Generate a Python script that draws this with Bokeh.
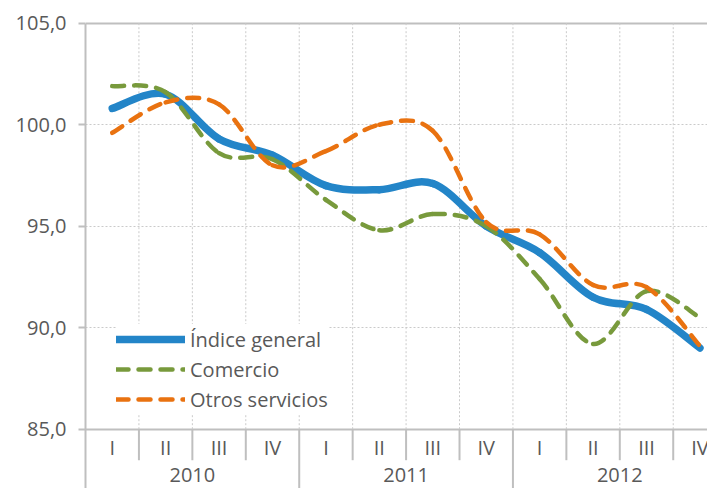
from bokeh.plotting import figure
from bokeh.models import Range1d, FixedTicker, Grid, Legend, LegendItem
from bokeh.core.properties import value
from bokeh.embed import file_html
from bokeh.resources import INLINE

# ---------------- data ----------------
years = ["2010", "2011", "2012"]
quarters = ["I", "II", "III", "IV"]
indice_general = [100.8, 101.5, 99.3, 98.5, 97.0, 96.8, 97.1, 95.0, 93.7, 91.5, 90.9, 89.0]
comercio = [101.9, 101.6, 98.6, 98.3, 96.3, 94.8, 95.6, 95.0, 92.4, 89.2, 91.8, 90.5]
otros_servicios = [99.6, 101.1, 101.0, 98.0, 98.7, 100.0, 99.7, 95.2, 94.6, 92.1, 92.0, 89.1]
y_ticks = [85, 90, 95, 100, 105]
y_tick_labels = ["85,0", "90,0", "95,0", "100,0", "105,0"]
series_names = ["Índice general", "Comercio", "Otros servicios"]

# ---------------- layout / style ----------------
W, H = 707, 488
BORDER_LEFT, BORDER_TOP = 85, 21
PX_PER_X = 53.43
PX_PER_Y = 20.3
TEXT = "#595959"
AXIS = "#BFBFBF"
GRIDC = "#CACACA"
FONT = "Open Sans"
FS = "20px"

frame_w = W - BORDER_LEFT
frame_h = H - BORDER_TOP
x_end = frame_w / PX_PER_X
y_end = y_ticks[-1] + 1.7 / PX_PER_Y
y_start = y_end - frame_h / PX_PER_Y

n = len(indice_general)
centers = [i + 0.5 for i in range(n)]
q_labels = [quarters[i % 4] for i in range(n)]
year_centers = [4 * j + 2 for j in range(len(years))]
base = y_ticks[0]

p = figure(width=W, height=H, x_range=Range1d(0, x_end), y_range=Range1d(y_start, y_end),
           output_backend="svg", toolbar_location=None, x_axis_location=None,
           min_border_left=BORDER_LEFT, min_border_right=0, min_border_top=BORDER_TOP,
           min_border_bottom=0, outline_line_color=None, background_fill_color="white",
           border_fill_color="white")

# y axis
ax = p.yaxis[0]
ax.ticker = FixedTicker(ticks=y_ticks)
ax.major_label_overrides = {t: l for t, l in zip(y_ticks, y_tick_labels)}
ax.bounds = (y_start, y_ticks[-1])
ax.axis_line_color = AXIS
ax.axis_line_width = 2
ax.major_tick_line_color = AXIS
ax.major_tick_line_width = 2
ax.major_tick_out = 7
ax.major_tick_in = 0
ax.minor_tick_line_color = None
ax.major_label_standoff = 12
ax.major_label_text_font = FONT
ax.major_label_text_font_size = FS
ax.major_label_text_color = TEXT

# grids
p.xgrid.visible = False
p.ygrid.ticker = FixedTicker(ticks=y_ticks[1:-1])
p.ygrid.grid_line_color = GRIDC
p.ygrid.grid_line_dash = "2 2"
p.ygrid.grid_line_width = 1
solid = Grid(dimension=1, ticker=FixedTicker(ticks=[y_ticks[0], y_ticks[-1]]),
             grid_line_color=AXIS, grid_line_width=2)
p.add_layout(solid)

bounds = list(range(1, n))
p.segment(x0=bounds, y0=[y_ticks[0]] * len(bounds), x1=bounds, y1=[y_ticks[-1]] * len(bounds),
          line_color=GRIDC, line_width=1, line_dash="2 2")

# category separators
q_sep = [k for k in range(1, n) if k % 4 != 0]
y_sep = [k for k in range(1, n) if k % 4 == 0]
p.segment(x0=q_sep, y0=[base] * len(q_sep), x1=q_sep, y1=[base - 31 / PX_PER_Y] * len(q_sep),
          line_color=AXIS, line_width=2)
p.segment(x0=y_sep, y0=[base] * len(y_sep), x1=y_sep, y1=[y_start] * len(y_sep),
          line_color=AXIS, line_width=2)

# category labels
p.text(x=centers, y=[base] * n, text=q_labels, y_offset=18.5, text_align="center",
       text_baseline="middle", text_font=value(FONT), text_font_size=FS, text_color=TEXT)
p.text(x=year_centers, y=[base] * len(years), text=years, y_offset=46, text_align="center",
       text_baseline="middle", text_font=value(FONT), text_font_size=FS, text_color=TEXT)


def smooth(vals):
    m = len(vals)
    xs = [i + 0.5 for i in range(m)]
    out = {k: [] for k in ["x0", "y0", "x1", "y1", "cx0", "cy0", "cx1", "cy1"]}
    for i in range(m - 1):
        a = max(i - 1, 0)
        b = min(i + 2, m - 1)
        out["x0"].append(xs[i]); out["y0"].append(vals[i])
        out["x1"].append(xs[i + 1]); out["y1"].append(vals[i + 1])
        out["cx0"].append(xs[i] + (xs[i + 1] - xs[a]) / 6)
        out["cy0"].append(vals[i] + (vals[i + 1] - vals[a]) / 6)
        out["cx1"].append(xs[i + 1] - (xs[b] - xs[i]) / 6)
        out["cy1"].append(vals[i + 1] - (vals[b] - vals[i]) / 6)
    return out


styles = [
    (indice_general, "#2385C8", 7.5, "solid"),
    (comercio, "#789A3C", 4.5, "12 10"),
    (otros_servicios, "#E97210", 4.5, "12 10"),
]
rends = []
for vals, col, w, dash in styles:
    r = p.bezier(line_color=col, line_width=w, line_dash=dash, line_cap="round", **smooth(vals))
    rends.append(r)

legend = Legend(items=[LegendItem(label=nm, renderers=[r]) for nm, r in zip(series_names, rends)],
                location=(31, 74), orientation="vertical", padding=10, margin=0, spacing=0,
                glyph_width=69, glyph_height=30, label_height=30, label_standoff=5,
                label_text_font=FONT, label_text_font_size=FS, label_text_color=TEXT,
                border_line_color=None, background_fill_color="white", background_fill_alpha=1.0)
p.add_layout(legend)

open("out.html", "w").write(file_html(p, INLINE))
